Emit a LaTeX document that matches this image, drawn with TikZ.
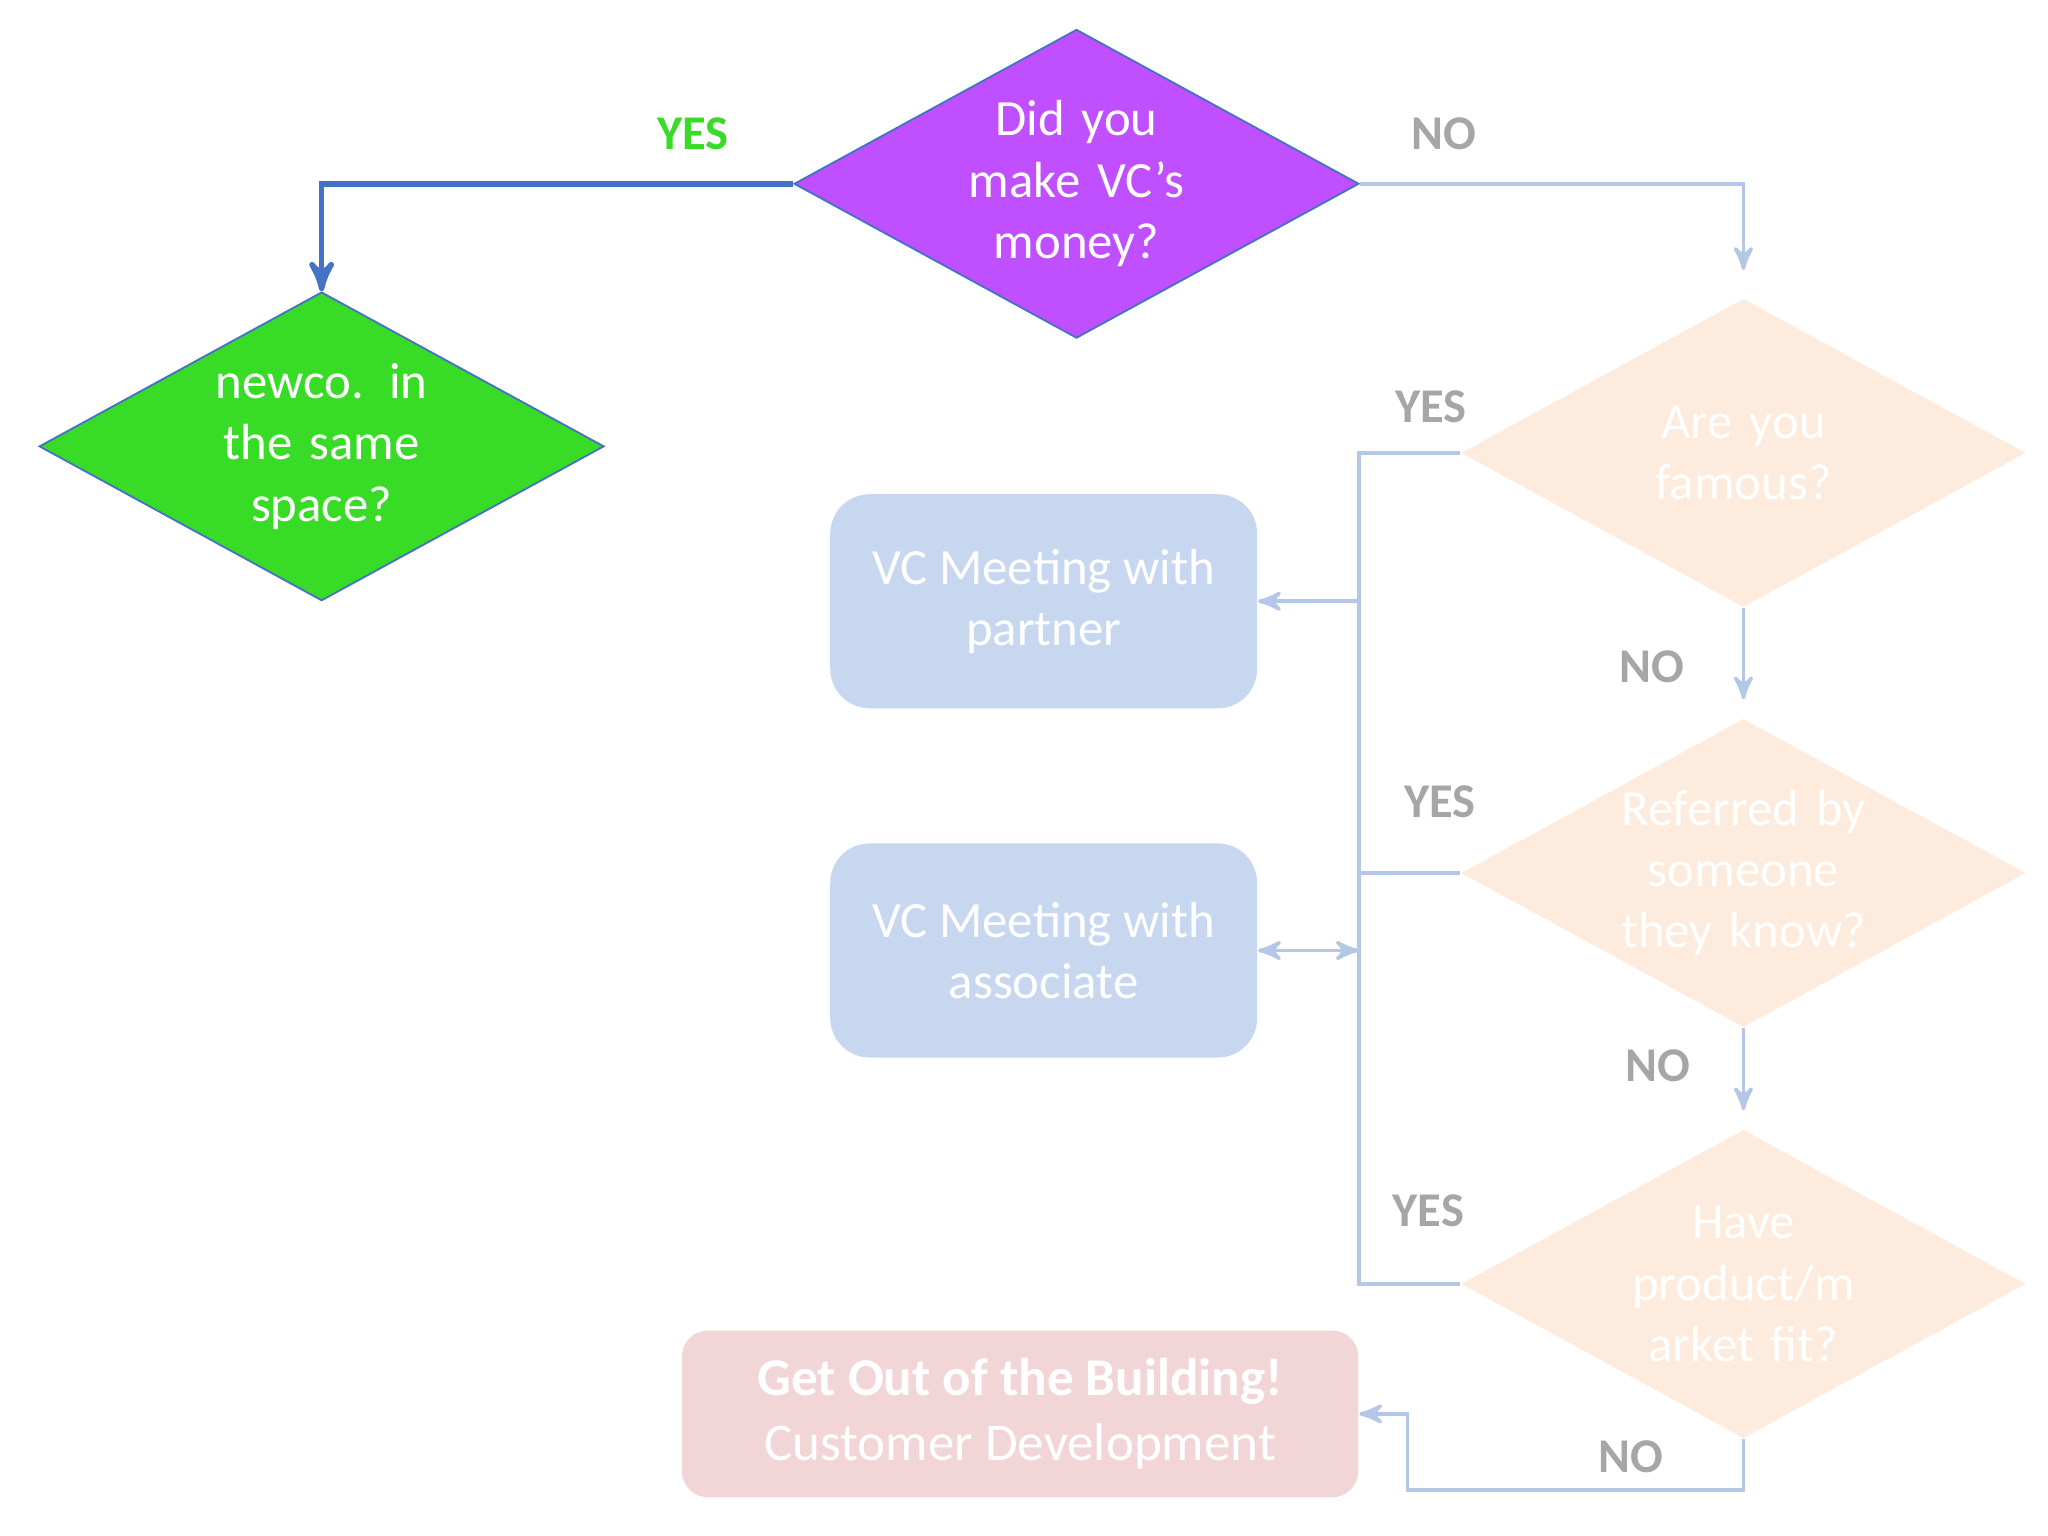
\documentclass[tikz,border=0pt]{standalone}
\usepackage{fontspec}
\setmainfont{Carlito}
\usetikzlibrary{shapes.geometric, arrows}
\definecolor{dblue}{HTML}{4472C4}
\definecolor{lblue}{HTML}{B4C7E7}
\definecolor{boxblue}{HTML}{C6D7EF}
\definecolor{peach}{HTML}{FDEBDD}
\definecolor{pinkbox}{HTML}{F2D5D7}
\definecolor{lgray}{HTML}{A6A6A6}
\definecolor{purp}{HTML}{BF4FFF}
\definecolor{grn}{HTML}{38DB26}
\tikzstyle{choix} = [diamond, minimum width=4.3cm, minimum height=2.35cm, inner sep=0pt]
\tikzstyle{dtext} = [text width=2.2cm, align=center, text=white, font=\fontsize{11}{13.3}\selectfont]
\tikzstyle{block} = [rectangle, rounded corners=0.3cm, minimum width=3.25cm, minimum height=1.63cm, align=center, fill=boxblue, text=white, font=\fontsize{11}{13.3}\selectfont]
\tikzstyle{arrow} = [lblue, thick, ->, >=stealth']
\tikzstyle{lab} = [font=\fontsize{10.5}{12}\selectfont\bfseries, text=lgray]
\begin{document}
\begin{tikzpicture}[x=0.01cm, y=-0.01cm]
        \useasboundingbox (0,0) rectangle (1560,1170);
        \node (money) [choix, fill=purp, draw=dblue, label={[dtext]center:Did you make VC's money?}] at (820,140) {};
        \node (same) [choix, fill=grn, draw=dblue, label={[dtext]center:newco. in the same space?}] at (245,340) {};
        \node (famous) [choix, fill=peach, label={[dtext]center:Are you famous?}] at (1328,345) {};
        \node (refer) [choix, fill=peach, label={[dtext]center:Referred by someone they know?}] at (1328,665) {};
        \node (fit) [choix, fill=peach, label={[dtext]center:Have product/m arket fit?}] at (1328,978) {};
        \node (partner) [block] at (795,458) {VC Meeting with\\partner};
        \node (assoc) [block] at (795,724) {VC Meeting with\\associate};
        \node (getout) [rectangle, rounded corners=0.2cm, minimum width=5.15cm, minimum height=1.27cm, fill=pinkbox, text=white, align=center, font=\fontsize{11.5}{14}\selectfont] at (777,1077) {\textbf{Get Out of the Building!}\\Customer Development};

        \coordinate (bus1) at (1035,345);
        \coordinate (bus2) at (1035,665);
        \coordinate (bus3) at (1035,978);
        \coordinate (bp) at (1035,458);
        \coordinate (ba) at (1035,724);
        \coordinate (low1) at (1328,1135);
        \coordinate (low2) at (1072,1135);
        \coordinate (low3) at (1072,1077);

        \draw [dblue, very thick, ->, >=stealth'] (money.west) -| (same.north);
        \draw [arrow] (money.east) -| ([yshift=6pt]famous.north);
        \draw [arrow] (famous.south) -- ([yshift=4pt]refer.north);
        \draw [arrow] (refer.south) -- ([yshift=4pt]fit.north);
        \draw [lblue, thick] (famous.west) -- (bus1) -- (bus3) -- (fit.west);
        \draw [lblue, thick] (refer.west) -- (bus2);
        \draw [arrow] (bp) -- (partner.east);
        \draw [arrow, <->] (ba) -- (assoc.east);
        \draw [arrow] (fit.south) -- (low1) -- (low2) -- (low3) -- (getout.east);

        \node [font=\fontsize{10.5}{12}\selectfont\bfseries, text=grn] at (528,102) {YES};
        \node [lab] at (1100,102) {NO};
        \node [lab] at (1090,310) {YES};
        \node [lab] at (1258,508) {NO};
        \node [lab] at (1097,611) {YES};
        \node [lab] at (1263,812) {NO};
        \node [lab] at (1088,922) {YES};
        \node [lab] at (1242,1110) {NO};
    \end{tikzpicture}
\end{document}
